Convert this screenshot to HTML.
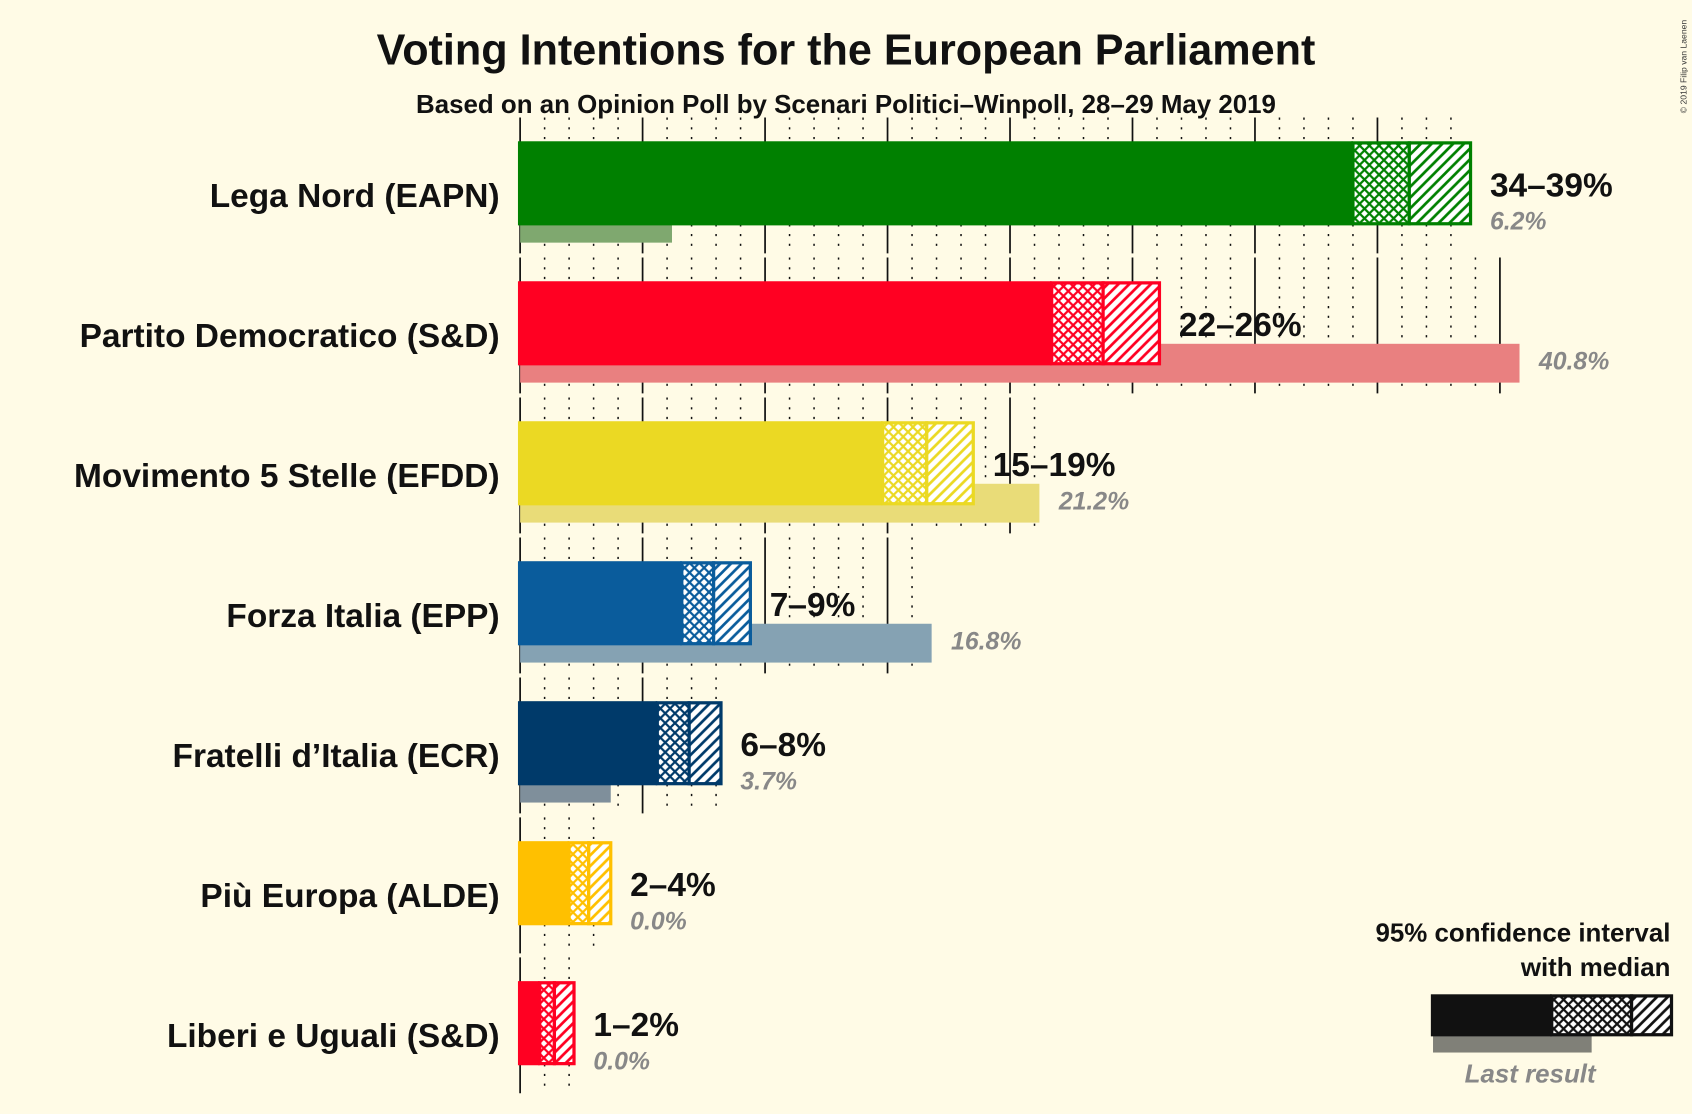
<!DOCTYPE html>
<html><head><meta charset="utf-8"><style>
html,body{margin:0;padding:0;background:#fffbe6;}
svg{display:block;font-family:"Liberation Sans",sans-serif;}
</style></head><body>
<svg id="chart" width="1692" height="1114" viewBox="0 0 1568 1033" preserveAspectRatio="none" xmlns="http://www.w3.org/2000/svg">
<rect width="1568" height="1033" fill="#fffbe6"/>
<defs id="defs"></defs>
<g id="grid"></g>
<g id="bars"></g>
<text x="784" y="60" text-anchor="middle" font-size="40" font-weight="bold" fill="#111">Voting Intentions for the European Parliament</text>
<text x="784" y="105" text-anchor="middle" font-size="24" font-weight="bold" fill="#111">Based on an Opinion Poll by Scenari Politici–Winpoll, 28–29 May 2019</text>
<text transform="translate(1563,105) rotate(-90)" font-size="8" fill="#333">© 2019 Filip van Laenen</text>
<g>
<text x="1548" y="873" text-anchor="end" font-size="24" font-weight="bold" fill="#111">95% confidence interval</text>
<text x="1548" y="905" text-anchor="end" font-size="24" font-weight="bold" fill="#111">with median</text>
<rect x="1328" y="958" width="147" height="18" fill="#808078"/>
<rect x="1326" y="922" width="112" height="39" fill="#111"/>
<rect x="1438" y="923.5" width="74" height="36" fill="url(#xh-legend)" stroke="#111" stroke-width="3"/>
<rect x="1512" y="923.5" width="37" height="36" fill="url(#dg-legend)" stroke="#111" stroke-width="3"/>
<text x="1418" y="1004" text-anchor="middle" font-size="24" font-style="italic" font-weight="bold" fill="#888">Last result</text>
</g>
</svg>
<script>
const parties = ["Lega Nord (EAPN)","Partito Democratico (S&D)","Movimento 5 Stelle (EFDD)","Forza Italia (EPP)","Fratelli d’Italia (ECR)","Più Europa (ALDE)","Liberi e Uguali (S&D)"];
const ciLow = [34.0, 21.7, 14.8, 6.6, 5.6, 2.0, 0.8];
const median = [36.3, 23.8, 16.6, 7.9, 6.9, 2.8, 1.4];
const ciHigh = [38.8, 26.1, 18.5, 9.4, 8.2, 3.7, 2.2];
const lastResult = [6.2, 40.8, 21.2, 16.8, 3.7, 0.0, 0.0];
const rangeLabels = ["34–39%","22–26%","15–19%","7–9%","6–8%","2–4%","1–2%"];
const lastLabels = ["6.2%","40.8%","21.2%","16.8%","3.7%","0.0%","0.0%"];
const colors = ["#008000","#ff0022","#ebd923","#0a5c9c","#003a6a","#ffc000","#ff0022"];
const lastColors = ["#7fa86f","#e98080","#e9dc78","#85a2b3","#7f8f9b","#f0d890","#f0a0a0"];

const NS="http://www.w3.org/2000/svg";
const X0=482, PX=22.7, TOP0=131, PITCH=129.8, BH=78;
const x=v=>X0+v*PX;
const yTop=i=>TOP0+i*PITCH;
function mk(tag,attrs,parent){const e=document.createElementNS(NS,tag);for(const k in attrs)e.setAttribute(k,attrs[k]);parent.appendChild(e);return e;}
const defs=document.getElementById('defs'), grid=document.getElementById('grid'), bars=document.getElementById('bars');
function patterns(id,c){
  const p=mk('pattern',{id:'xh-'+id,patternUnits:'userSpaceOnUse',width:9,height:9},defs);
  mk('rect',{width:9,height:9,fill:'#fff'},p);
  mk('path',{d:'M0,0 L9,9 M9,0 L0,9 M-1,8 L1,10 M8,-1 L10,1 M8,10 L10,8 M-1,1 L1,-1',stroke:c,'stroke-width':2},p);
  const q=mk('pattern',{id:'dg-'+id,patternUnits:'userSpaceOnUse',width:10,height:10},defs);
  mk('rect',{width:10,height:10,fill:'#fff'},q);
  mk('path',{d:'M0,10 L10,0 M-2,2 L2,-2 M8,12 L12,8',stroke:c,'stroke-width':2.5},q);
}
patterns('legend','#111');
parties.forEach((name,i)=>{
  const t=yTop(i), c=colors[i];
  patterns(i,c);
  const mx=Math.floor(Math.max(ciHigh[i],lastResult[i]));
  for(let v=0;v<=mx;v++){
    const ln=mk('line',{x1:x(v),x2:x(v),y1:t-22,y2:t+104,stroke:'#111','stroke-width':v%5===0?1.6:1.4,'stroke-dasharray':v%5===0?'':'2,7'},grid);
    
    
  }
  const g=mk('g',{},bars);
  
  
  const lb=mk('rect',{x:x(0),y:t+58,width:Math.max(0,x(lastResult[i])-x(0)),height:36,fill:lastColors[i]},g);
  
  
  const b=mk('rect',{x:x(0)-2,y:t,width:x(ciLow[i])-x(0)+2,height:BH,fill:c},g);
  
  
  const r1=mk('rect',{x:x(ciLow[i]),y:t+1.5,width:x(median[i])-x(ciLow[i]),height:BH-3,fill:'url(#xh-'+i+')',stroke:c,'stroke-width':3},g);
  
  
  const r2=mk('rect',{x:x(median[i]),y:t+1.5,width:x(ciHigh[i])-x(median[i]),height:BH-3,fill:'url(#dg-'+i+')',stroke:c,'stroke-width':3},g);
  
  
  const pl=mk('text',{x:463,y:t+61,'text-anchor':'end','font-size':31,'font-weight':'bold',fill:'#111'},g);
  pl.textContent=name;
  
  
  const vl=mk('text',{x:x(ciHigh[i])+18,y:t+51,'font-size':31,'font-weight':'bold',fill:'#111'},g);
  vl.textContent=rangeLabels[i];
  
  
  let lx,ly;
  if(lastResult[i]>ciHigh[i]){lx=x(lastResult[i])+18;ly=t+82;}else{lx=x(ciHigh[i])+18;ly=t+82;}
  const ll=mk('text',{x:lx,y:ly,'font-size':23,'font-weight':'bold','font-style':'italic',fill:'#888'},g);
  ll.textContent=lastLabels[i];
  
  
});
</script>
</body></html>
